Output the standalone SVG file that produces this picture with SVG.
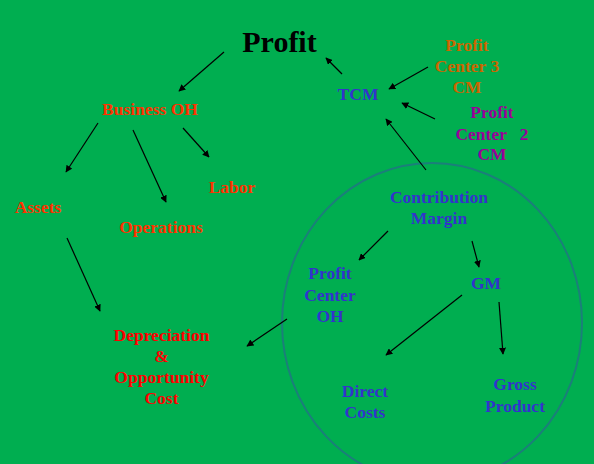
<svg xmlns="http://www.w3.org/2000/svg" width="594" height="464" viewBox="0 0 594 464">
<style>
text{font-family:"Liberation Serif","Times New Roman",serif;font-weight:bold;font-size:17.5px;text-anchor:middle}
.red{fill:#FF3300}
.pure{fill:#FF0000}
.blue{fill:#3333CC}
.orange{fill:#CC6600}
.purple{fill:#990099}
.title{fill:#000;font-size:30px}
.c line{stroke:#000;stroke-width:1.2;marker-end:url(#ah)}
</style>
<defs>
<marker id="ah" viewBox="0 0 10 10" refX="9" refY="5" markerWidth="7" markerHeight="7" markerUnits="userSpaceOnUse" orient="auto">
<path d="M0,0 L10,5 L0,10 z" fill="#000"/>
</marker>
</defs>
<rect width="594" height="464" fill="#00AE50"/>
<ellipse id="circle" cx="432" cy="323" rx="150" ry="160" fill="none" stroke="#1B7F7A" stroke-width="2"/>
<g id="profit"><text class="title" x="279.5" y="52">Profit</text></g>
<g id="business-oh"><text class="red" x="150" y="115">Business OH</text></g>
<g id="labor"><text class="red" x="232" y="193">Labor</text></g>
<g id="assets"><text class="red" x="38" y="213">Assets</text></g>
<g id="operations"><text class="red" x="161" y="233">Operations</text></g>
<g id="depreciation"><text class="pure" x="161.5" y="341">Depreciation</text><text class="pure" x="161.5" y="362">&amp;</text><text class="pure" x="161.5" y="383">Opportunity</text><text class="pure" x="161.5" y="404">Cost</text></g>
<g id="tcm"><text class="blue" x="358" y="100">TCM</text></g>
<g id="pc3"><text class="orange" x="467" y="51">Profit</text><text class="orange" x="467" y="72">Center 3</text><text class="orange" x="467" y="93">CM</text></g>
<g id="pc2"><text class="purple" x="492" y="118">Profit</text><text class="purple" x="492" y="140" xml:space="preserve">Center   2</text><text class="purple" x="492" y="160">CM</text></g>
<g id="cm"><text class="blue" x="439" y="203">Contribution</text><text class="blue" x="439" y="224">Margin</text></g>
<g id="pcoh"><text class="blue" x="330" y="279">Profit</text><text class="blue" x="330" y="301">Center</text><text class="blue" x="330" y="322">OH</text></g>
<g id="gm"><text class="blue" x="486" y="289">GM</text></g>
<g id="direct"><text class="blue" x="365" y="397">Direct</text><text class="blue" x="365" y="418">Costs</text></g>
<g id="gross"><text class="blue" x="515" y="390">Gross</text><text class="blue" x="515" y="412">Product</text></g>
<g id="connectors" class="c">
<line x1="224" y1="52" x2="179" y2="91"/>
<line x1="98" y1="123" x2="66" y2="172"/>
<line x1="133" y1="130" x2="166" y2="202"/>
<line x1="183" y1="128" x2="209" y2="157"/>
<line x1="67" y1="238" x2="100" y2="311"/>
<line x1="287" y1="319" x2="247" y2="346"/>
<line x1="342" y1="74" x2="326" y2="58"/>
<line x1="428" y1="67" x2="389" y2="89"/>
<line x1="435" y1="119" x2="402" y2="103"/>
<line x1="426" y1="170" x2="386" y2="119"/>
<line x1="388" y1="231" x2="359" y2="260"/>
<line x1="472" y1="241" x2="479" y2="267"/>
<line x1="462" y1="295" x2="386" y2="355"/>
<line x1="499" y1="302" x2="503" y2="354"/>
</g>
</svg>
